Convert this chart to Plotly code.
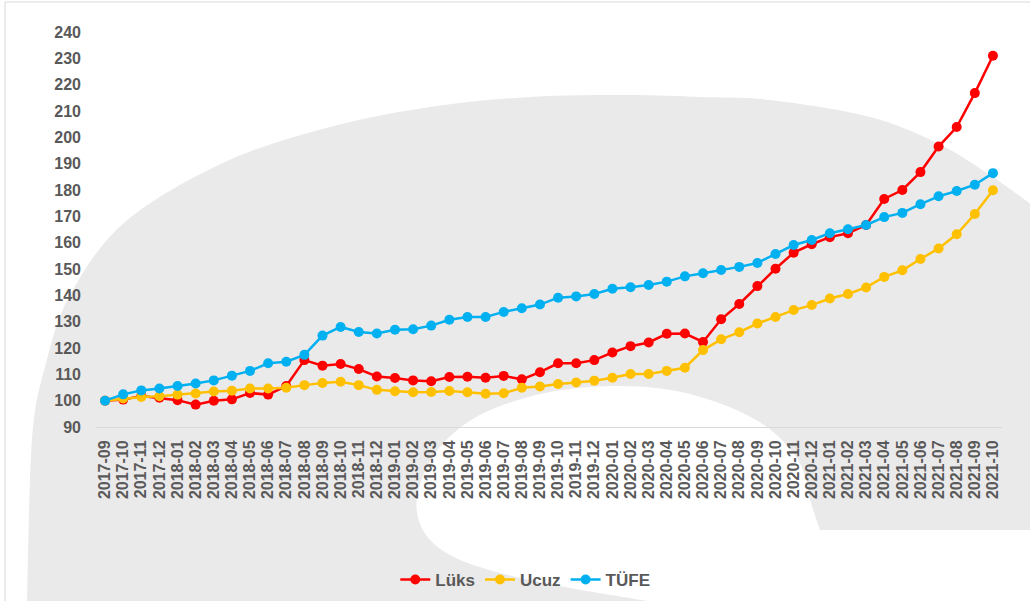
import plotly.graph_objects as go

# Monthly index values (2017-09 = 100)
months = [
    "2017-09", "2017-10", "2017-11", "2017-12",
    "2018-01", "2018-02", "2018-03", "2018-04", "2018-05", "2018-06",
    "2018-07", "2018-08", "2018-09", "2018-10", "2018-11", "2018-12",
    "2019-01", "2019-02", "2019-03", "2019-04", "2019-05", "2019-06",
    "2019-07", "2019-08", "2019-09", "2019-10", "2019-11", "2019-12",
    "2020-01", "2020-02", "2020-03", "2020-04", "2020-05", "2020-06",
    "2020-07", "2020-08", "2020-09", "2020-10", "2020-11", "2020-12",
    "2021-01", "2021-02", "2021-03", "2021-04", "2021-05", "2021-06",
    "2021-07", "2021-08", "2021-09", "2021-10",
]

luks = [
    100.0, 100.4, 101.8, 101.1, 100.2, 98.5, 100.0, 100.5, 102.9, 102.3,
    105.6, 115.4, 113.3, 113.9, 112.0, 109.2, 108.6, 107.7, 107.4, 109.0,
    109.1, 108.7, 109.4, 108.1, 110.8, 114.2, 114.2, 115.4, 118.3, 120.7,
    122.1, 125.4, 125.5, 122.3, 130.9, 136.7, 143.5, 150.1, 156.2, 159.4,
    162.1, 163.6, 166.7, 176.6, 180.0, 186.8, 196.5, 203.9, 216.8, 231.0,
]

ucuz = [
    100.0, 100.8, 101.4, 101.7, 102.3, 102.7, 103.5, 103.8, 104.6, 104.6,
    104.9, 105.9, 106.7, 107.2, 105.9, 104.1, 103.6, 103.2, 103.3, 103.7,
    103.2, 102.6, 102.8, 104.9, 105.4, 106.3, 106.9, 107.6, 108.7, 110.1,
    110.1, 111.3, 112.5, 119.2, 123.3, 126.0, 129.3, 131.8, 134.4, 136.3,
    138.8, 140.5, 143.0, 147.0, 149.5, 153.8, 157.8, 163.2, 170.9, 179.9,
]

tufe = [
    100.0, 102.4, 103.9, 104.6, 105.6, 106.5, 107.7, 109.5, 111.3, 114.2,
    114.8, 117.4, 124.7, 128.0, 126.1, 125.5, 126.9, 127.1, 128.5, 130.7,
    131.8, 131.8, 133.7, 135.1, 136.5, 139.1, 139.6, 140.5, 142.5, 143.1,
    143.9, 145.2, 147.2, 148.4, 149.6, 150.8, 152.3, 155.7, 159.1, 161.0,
    163.6, 165.1, 166.7, 169.7, 171.3, 174.6, 177.6, 179.6, 182.0, 186.4,
]

y_ticks = list(range(90, 241, 10))

series = [
    ("Lüks", luks, "#ff0000"),
    ("Ucuz", ucuz, "#ffc000"),
    ("TÜFE", tufe, "#00b0f0"),
]

W, H = 1030, 601
ML, MR, MT, MB = 96, 28, 32, 174
PW, PH = W - ML - MR, H - MT - MB

def to_paper(px, py):
    return (px - ML) / PW, (H - MB - py) / PH

def smooth_path(points, closing):
    """Catmull-Rom spline through pixel points, expressed in paper units."""
    pts = [to_paper(x, y) for x, y in points]
    d = "M{:.5f},{:.5f}".format(*pts[0])
    for i in range(len(pts) - 1):
        p0 = pts[i - 1] if i > 0 else pts[i]
        p1, p2 = pts[i], pts[i + 1]
        p3 = pts[i + 2] if i + 2 < len(pts) else p2
        c1 = (p1[0] + (p2[0] - p0[0]) / 6, p1[1] + (p2[1] - p0[1]) / 6)
        c2 = (p2[0] - (p3[0] - p1[0]) / 6, p2[1] - (p3[1] - p1[1]) / 6)
        d += " C{:.5f},{:.5f} {:.5f},{:.5f} {:.5f},{:.5f}".format(*c1, *c2, *p2)
    for x, y in closing:
        d += " L{:.5f},{:.5f}".format(*to_paper(x, y))
    return d + " Z"

# Large faded logo mark behind the chart
outer_arc = [(27, 601), (32, 440), (45, 367), (70, 295), (125, 222), (225, 162),
             (330, 127), (430, 107), (530, 97), (630, 95), (700, 97), (770, 100),
             (870, 117), (937, 143), (987, 173), (1032, 205)]
outer_close = [(1032, 603), (27, 603)]

inner_curve = [(820, 530), (811, 503), (798, 460), (758, 421), (690, 394),
               (620, 386), (545, 393), (478, 416), (436, 452), (417, 497),
               (424, 532), (452, 556), (500, 573), (570, 588), (660, 603)]
inner_close = [(1032, 603), (1032, 530)]

shapes = [
    dict(type="path", xref="paper", yref="paper", layer="below",
         path=smooth_path(outer_arc, outer_close),
         fillcolor="#ebeaea", line=dict(width=0)),
    dict(type="path", xref="paper", yref="paper", layer="below",
         path=smooth_path(inner_curve, inner_close),
         fillcolor="#ffffff", line=dict(width=0)),
]

# thin frame along the top and left edges
fx0, fy0 = to_paper(5, 2)
fx1, _ = to_paper(1032, 2)
_, fy1 = to_paper(5, 603)
shapes.append(dict(type="line", xref="paper", yref="paper", x0=fx0, y0=fy0,
                   x1=fx1, y1=fy0, line=dict(color="#d9d9d9", width=1)))
shapes.append(dict(type="line", xref="paper", yref="paper", x0=fx0, y0=fy0,
                   x1=fx0, y1=fy1, line=dict(color="#d9d9d9", width=1)))

fig = go.Figure()
for name, values, color in series:
    fig.add_trace(go.Scatter(
        x=months, y=values, name=name, mode="lines+markers",
        line=dict(color=color, width=2.5),
        marker=dict(color=color, size=10),
    ))

font_family = "Liberation Sans, Arial, sans-serif"
label_color = "#595959"

fig.update_layout(
    width=W, height=H,
    margin=dict(l=ML, r=MR, t=MT, b=MB),
    paper_bgcolor="#ffffff",
    plot_bgcolor="rgba(0,0,0,0)",
    shapes=shapes,
    showlegend=True,
    legend=dict(
        orientation="h", xref="container", yref="container",
        x=0.51, xanchor="center", y=(H - 580) / H, yanchor="middle",
        font=dict(family=font_family, size=17, color=label_color, weight="bold"),
        bgcolor="rgba(0,0,0,0)", itemwidth=30, tracegroupgap=0,
    ),
    xaxis=dict(
        type="category", range=[-0.5, len(months) - 0.5],
        tickmode="array", tickvals=months, ticktext=months,
        tickangle=-90, showgrid=False, zeroline=False,
        showline=True, linecolor="#d9d9d9", linewidth=1,
        ticks="", ticklabelstandoff=6,
        tickfont=dict(family=font_family, size=16, color=label_color, weight="bold"),
    ),
    yaxis=dict(
        range=[90, 240], tickvals=y_ticks, showgrid=False, zeroline=False,
        showline=False, ticks="", ticklabelstandoff=14,
        tickfont=dict(family=font_family, size=16, color=label_color, weight="bold"),
    ),
)

fig.write_html("out.html")
